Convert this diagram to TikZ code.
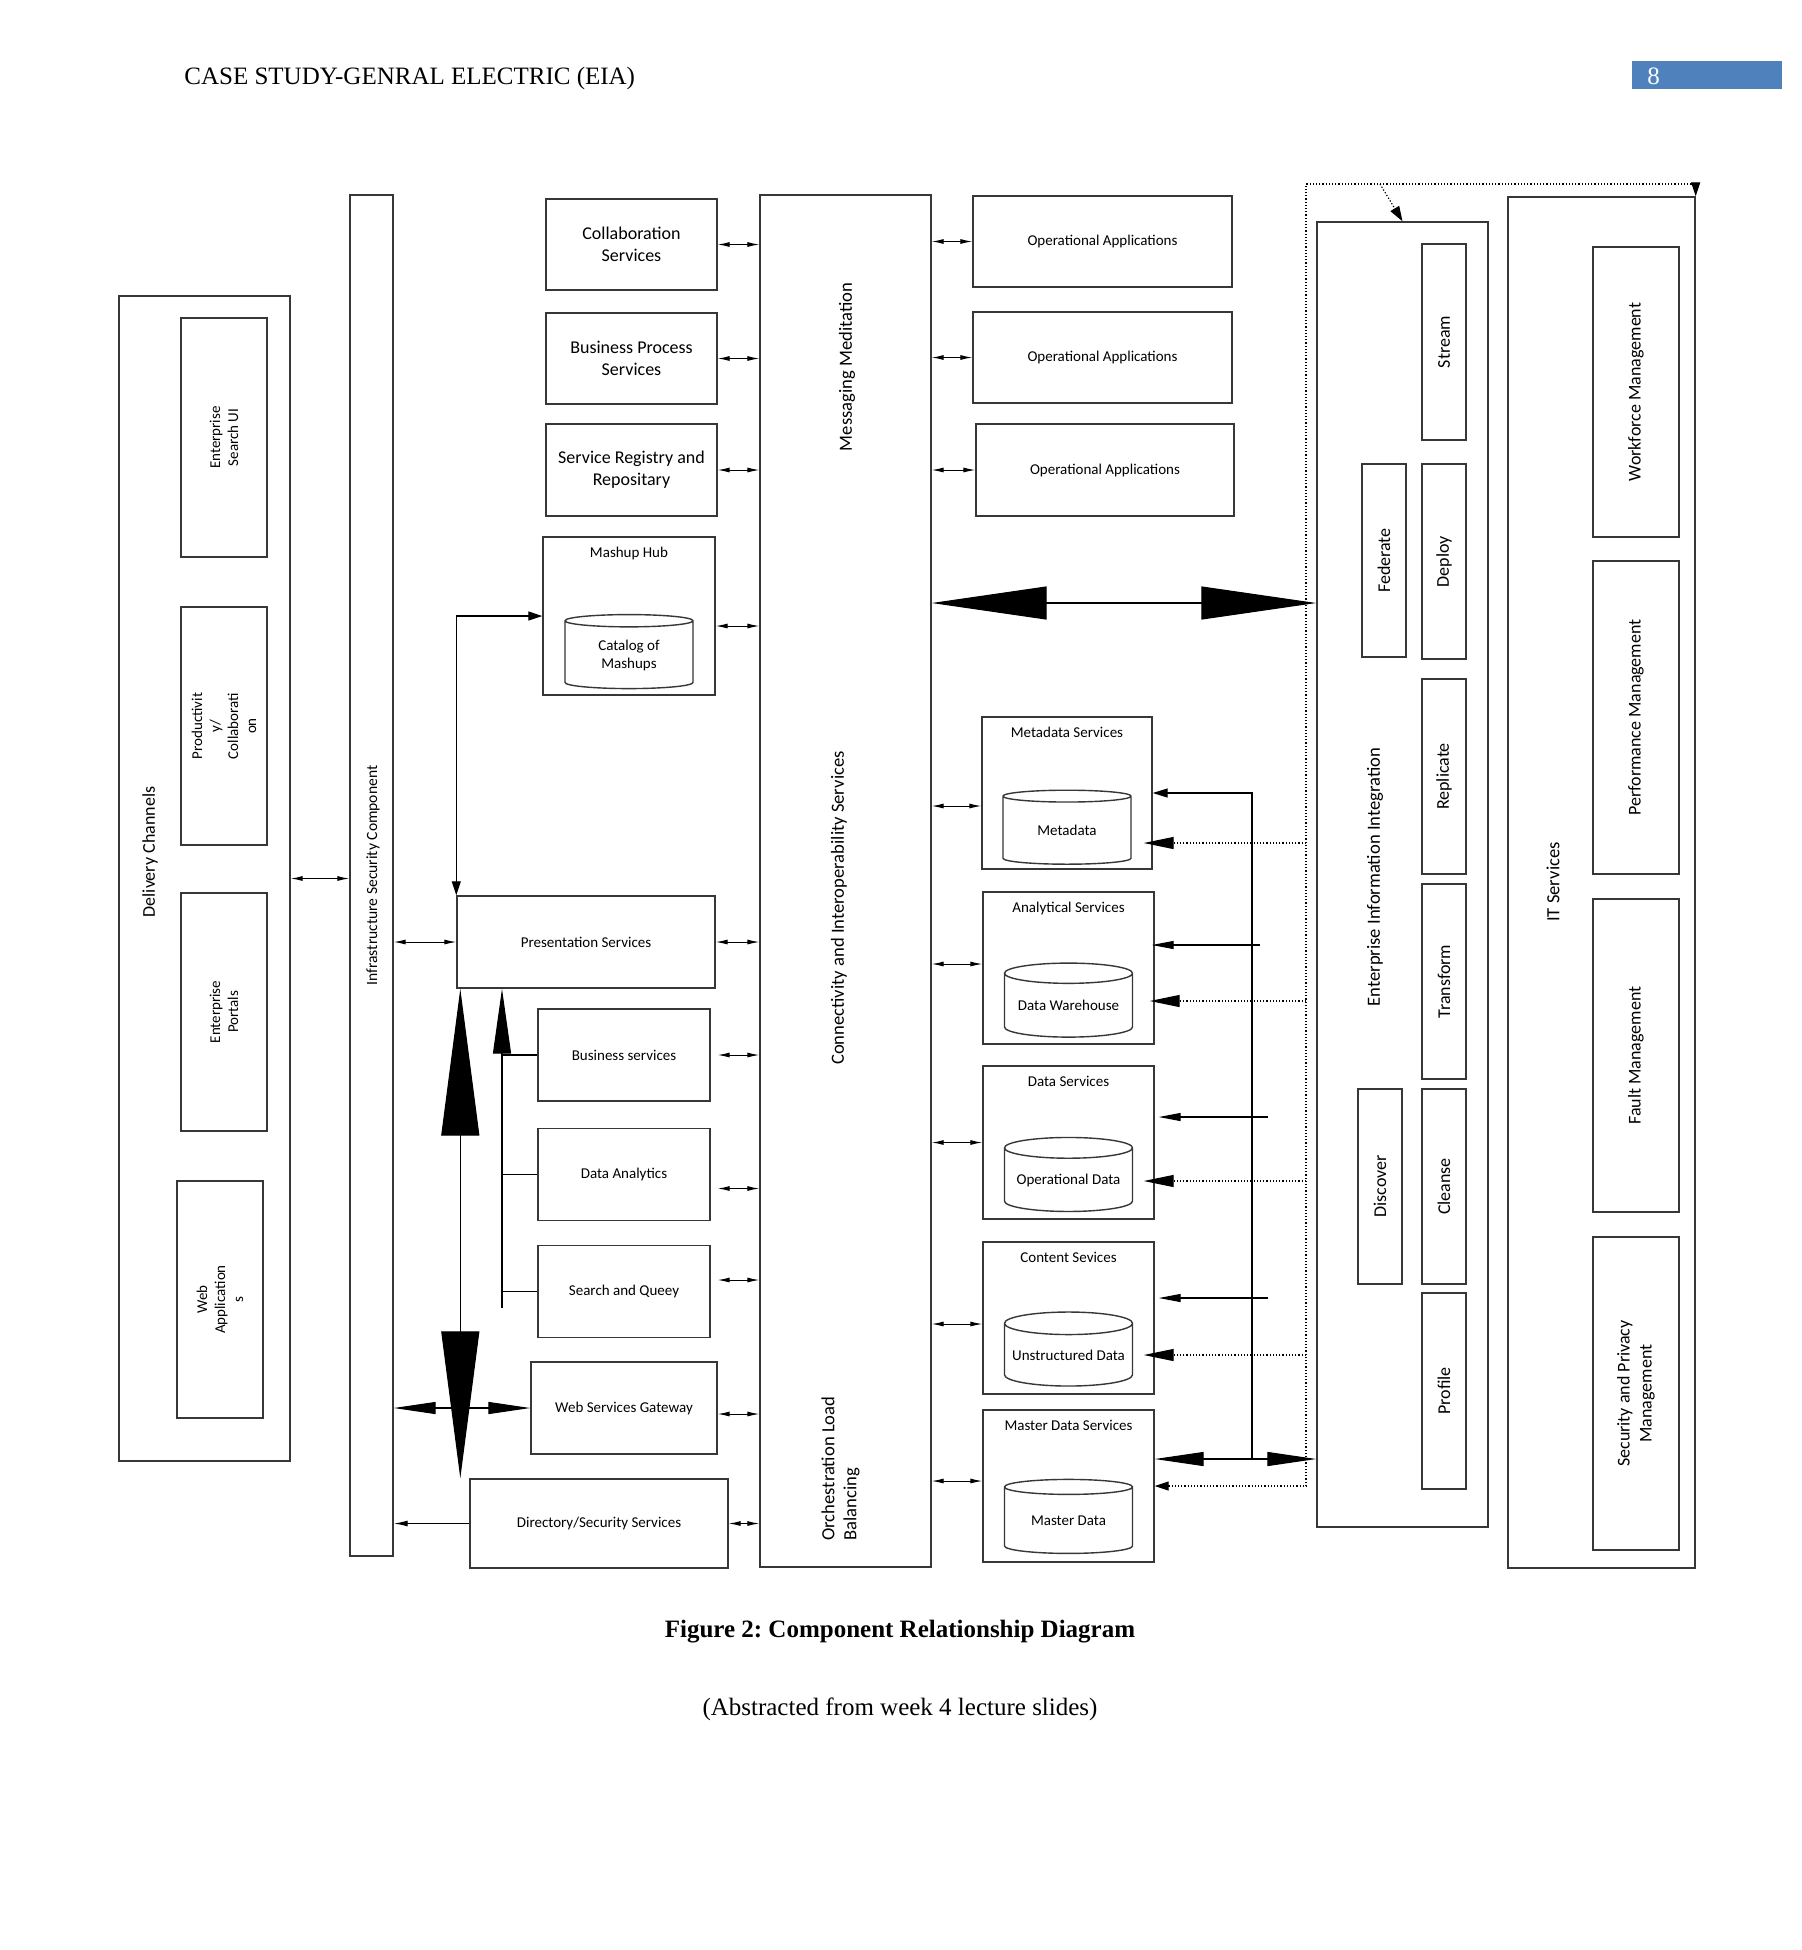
\documentclass[tikz,border=0pt]{standalone}
\usepackage{fontspec}
\usepackage{tikz}
\usetikzlibrary{shapes.geometric,positioning,arrows.meta}
\setmainfont{Liberation Serif}
\newfontfamily\calfont{Carlito}
\definecolor{pagebar}{RGB}{79,129,189}
\definecolor{edgecol}{RGB}{55,55,55}
\frenchspacing

\begin{document}
\begin{tikzpicture}[
  x=0.5pt, y=-0.5pt,
  box/.style={draw=edgecol, line width=0.7pt, align=center, inner sep=1pt,
              font=\calfont\fontsize{9}{11}\selectfont},
  sbox/.style={box, font=\calfont\fontsize{7.5}{9}\selectfont},
  vbox/.style={box, rotate=90},
  svbox/.style={sbox, rotate=90},
  db/.style={cylinder, shape border rotate=90, aspect=0.2, draw=edgecol, line width=0.7pt,
             minimum width=64pt, minimum height=37pt, inner sep=0pt, align=center,
             font=\calfont\fontsize{7.5}{9}\selectfont},
  txt/.style={inner sep=1pt, align=center, font=\calfont\fontsize{9.3}{11}\selectfont},
  stxt/.style={inner sep=1pt, align=center, font=\calfont\fontsize{7.5}{9}\selectfont},
  arr/.style={{Latex[length=6pt,width=2.5pt]}-{Latex[length=6pt,width=2.5pt]}, line width=0.5pt},
  duo/.style={{Triangle[length=7pt,width=4.5pt]}-{Triangle[length=7pt,width=4.5pt]}, line width=0.6pt},
  solarr/.style={-{Triangle[length=11pt,width=4pt]}, line width=0.6pt},
  hugearr/.style={{Triangle[length=73.5pt,width=19pt]}-{Triangle[length=73.5pt,width=19pt]}, line width=0.6pt},
  widearr/.style={{Triangle[length=57.5pt,width=16.5pt]}-{Triangle[length=57.5pt,width=16.5pt]}, line width=0.6pt},
  gwarr/.style={{Triangle[length=21pt,width=6pt]}-{Triangle[length=21pt,width=6pt]}, line width=0.6pt},
  mdarr/.style={{Triangle[length=24.5pt,width=7pt]}-{Triangle[length=24.5pt,width=7pt]}, line width=0.6pt},
  dotline/.style={densely dotted, line width=0.6pt},
  dotarr/.style={dotline, -{Triangle[length=15pt,width=6pt]}}
]

\useasboundingbox[fill=white] (0,0) rectangle (1802,1950);

% page header and caption
\node[anchor=west, inner sep=0pt, font=\fontsize{12.5}{14}\selectfont] (header) at (184,78) {CASE STUDY-GENRAL ELECTRIC (EIA)};
\node[fill=pagebar, minimum width=75pt, minimum height=14pt, inner sep=0pt] (pagebox) at (1707,75) {};
\node[anchor=west, inner sep=0pt, text=white, font=\fontsize{12.5}{14}\selectfont] (pagenum) at (1647,76) {8};
\node[font=\bfseries\fontsize{12.5}{14}\selectfont] (caption) at (900,1632) {Figure 2: Component Relationship Diagram};
\node[font=\fontsize{12.5}{14}\selectfont] (source) at (900,1709) {(Abstracted from week 4 lecture slides)};

% delivery channels
\node[box, minimum width=85.5pt, minimum height=582.5pt] (deliv) at (204.5,878.5) {};
\node[txt, rotate=90, font=\calfont\fontsize{9}{11}\selectfont] (delivlbl) at (150,852) {Delivery Channels};
\node[svbox, minimum width=119.5pt, minimum height=43pt] (esui) at (224,437.5) {Enterprise\\Search UI};
\node[svbox, minimum width=119pt, minimum height=43pt] (prodcol) at (224,726) {Productivit\\y/\\Collaborati\\on};
\node[svbox, minimum width=119pt, minimum height=43pt] (eportal) at (224,1012) {Enterprise\\Portals};
\node[svbox, minimum width=118.5pt, minimum height=43pt] (webapp) at (220,1299.5) {Web\\Application\\s};

% infrastructure security
\node[box, minimum width=21.5pt, minimum height=680.5pt] (infra) at (371.5,875.5) {};
\node[stxt, rotate=90, font=\calfont\fontsize{7.8}{9}\selectfont] (infralbl) at (373,875.5) {Infrastructure Security Component};

% service boxes
\node[box, minimum width=85.5pt, minimum height=45.5pt] (collab) at (631.5,244.5) {Collaboration\\Services};
\node[box, minimum width=85.5pt, minimum height=45.5pt] (bproc) at (631.5,358.5) {Business Process\\Services};
\node[box, minimum width=85.5pt, minimum height=46pt] (sreg) at (631.5,470) {Service Registry and\\Repositary};
\node[box, minimum width=86pt, minimum height=79pt] (mashup) at (629,616) {};
\node[stxt, below=4pt of mashup.north] (mashuplbl) {Mashup Hub};
\node[db] (catalog) at (629,655) {Catalog of\\Mashups};

\node[sbox, minimum width=129pt, minimum height=46pt] (pres) at (586,942) {Presentation Services};
\node[sbox, minimum width=86pt, minimum height=46pt] (bserv) at (624,1055) {Business services};
\node[sbox, minimum width=86pt, minimum height=46pt] (danal) at (624,1174.5) {Data Analytics};
\node[sbox, minimum width=86pt, minimum height=46pt] (search) at (624,1291.5) {Search and Queey};
\node[sbox, minimum width=93pt, minimum height=46pt] (wsg) at (624,1408) {Web Services Gateway};
\node[sbox, minimum width=129pt, minimum height=44.5pt] (dirsec) at (599,1523.5) {Directory/Security Services};

% connectivity column
\node[box, minimum width=85.5pt, minimum height=686pt] (conncol) at (845.5,881) {};
\node[txt, rotate=90] (msglbl) at (847,367) {Messaging Meditation};
\node[txt, rotate=90] (connlbl) at (839,908) {Connectivity and Interoperability Services};
\node[txt, rotate=90, anchor=west, align=left] (orchlbl) at (840.5,1543) {Orchestration Load\\Balancing};

% operational applications
\node[sbox, minimum width=129.5pt, minimum height=45.5pt] (opapp1) at (1102.5,241.5) {Operational Applications};
\node[sbox, minimum width=129.5pt, minimum height=45.5pt] (opapp2) at (1102.5,357.5) {Operational Applications};
\node[sbox, minimum width=129pt, minimum height=46pt] (opapp3) at (1105,470) {Operational Applications};

% data services
\node[box, minimum width=85pt, minimum height=76pt] (metasrv) at (1067,793) {};
\node[stxt, below=4pt of metasrv.north] (metalbl) {Metadata Services};
\node[db] (metadb) at (1067,830.5) {Metadata};
\node[box, minimum width=85.5pt, minimum height=76pt] (analsrv) at (1068.5,968) {};
\node[stxt, below=4pt of analsrv.north] (anallbl) {Analytical Services};
\node[db] (dwdb) at (1068.5,1005.5) {Data Warehouse};
\node[box, minimum width=85.5pt, minimum height=76.5pt] (datasrv) at (1068.5,1142.5) {};
\node[stxt, below=4pt of datasrv.north] (datalbl) {Data Services};
\node[db] (opdb) at (1068.5,1180) {Operational Data};
\node[box, minimum width=85.5pt, minimum height=76pt] (contsrv) at (1068.5,1318) {};
\node[stxt, below=4pt of contsrv.north] (contlbl) {Content Sevices};
\node[db] (unstrdb) at (1068.5,1355) {Unstructured Data};
\node[box, minimum width=85.5pt, minimum height=76pt] (mastersrv) at (1068.5,1486) {};
\node[stxt, below=4pt of mastersrv.north] (masterlbl) {Master Data Services};
\node[db] (masterdb) at (1068.5,1520.5) {Master Data};

% enterprise information integration
\node[box, minimum width=85.5pt, minimum height=652.5pt] (eii) at (1402.5,874.5) {};
\node[txt, rotate=90] (eiilbl) at (1375,877) {Enterprise Information Integration};
\node[vbox, minimum width=98pt, minimum height=22pt] (stream) at (1444,342) {Stream};
\node[vbox, minimum width=97.5pt, minimum height=22pt] (deploy) at (1444,561.5) {Deploy};
\node[vbox, minimum width=97.5pt, minimum height=22pt] (replic) at (1444,776.5) {Replicate};
\node[vbox, minimum width=97.5pt, minimum height=22pt] (transf) at (1444,981.5) {Transform};
\node[vbox, minimum width=97.5pt, minimum height=22pt] (cleanse) at (1444,1186.5) {Cleanse};
\node[vbox, minimum width=98pt, minimum height=22pt] (profile) at (1444,1391) {Profile};
\node[vbox, minimum width=96.5pt, minimum height=22pt] (federate) at (1384,560.5) {Federate};
\node[vbox, minimum width=97.5pt, minimum height=22pt] (discover) at (1380,1186.5) {Discover};

% it services
\node[box, minimum width=93.5pt, minimum height=685.5pt] (itsrv) at (1601.5,882.5) {};
\node[txt, rotate=90] (itlbl) at (1553,882) {IT Services};
\node[vbox, minimum width=145pt, minimum height=43pt] (workforce) at (1636,392) {Workforce Management};
\node[vbox, minimum width=156.5pt, minimum height=43pt] (perfmgmt) at (1636,717.5) {Performance Management};
\node[vbox, minimum width=156.5pt, minimum height=43pt] (faultmgmt) at (1636,1055.5) {Fault Management};
\node[vbox, minimum width=156.5pt, minimum height=43pt] (secmgmt) at (1636,1393.5) {Security and Privacy\\Management};

% left connectors
\draw[arr] (deliv.east) -- (deliv.east -| infra.west);
\draw[arr] (infra.east |- pres.west) -- (pres.west);
\draw[duo] (mashup.west) -| (pres.north west);
\draw[hugearr] ([xshift=2pt]pres.south west) -- ([xshift=2pt]pres.south west |- dirsec.north);
\coordinate (trunk) at (502,1308);
\draw[line width=0.6pt, -{Triangle[length=32.5pt,width=9pt]}] (trunk) -- (trunk |- pres.south);
\draw[line width=0.6pt] (trunk |- bserv.west) -- (bserv.west);
\draw[line width=0.6pt] (trunk |- danal.west) -- (danal.west);
\draw[line width=0.6pt] (trunk |- search.west) -- (search.west);
\draw[gwarr] (infra.east |- wsg.west) -- (wsg.west);
\draw[line width=0.6pt, -{Latex[length=7pt,width=3pt]}] (dirsec.west) -- (dirsec.west -| infra.east);

% into the column
\draw[arr] (collab.east) -- (collab.east -| conncol.west);
\draw[arr] (bproc.east) -- (bproc.east -| conncol.west);
\draw[arr] (sreg.east) -- (sreg.east -| conncol.west);
\draw[arr] ([yshift=-5pt]mashup.east) -- ([yshift=-5pt]mashup.east -| conncol.west);
\draw[arr] (pres.east) -- (pres.east -| conncol.west);
\draw[arr] ([xshift=3.5pt]bserv.east) -- (bserv.east -| conncol.west);
\draw[arr] ([xshift=3.5pt,yshift=-7pt]danal.east) -- ([yshift=-7pt]danal.east -| conncol.west);
\draw[arr] ([xshift=3.5pt,yshift=5.75pt]search.east) -- ([yshift=5.75pt]search.east -| conncol.west);
\draw[arr] ([yshift=-3pt]wsg.east) -- ([yshift=-3pt]wsg.east -| conncol.west);
\draw[arr] (dirsec.east) -- (dirsec.east -| conncol.west);

% out of the column
\draw[arr] (conncol.east |- opapp1.west) -- (opapp1.west);
\draw[arr] (conncol.east |- opapp2.west) -- (opapp2.west);
\draw[arr] (conncol.east |- opapp3.west) -- (opapp3.west);
\draw[arr] ([yshift=-6.5pt]metasrv.west -| conncol.east) -- ([yshift=-6.5pt]metasrv.west);
\draw[arr] ([yshift=2pt]analsrv.west -| conncol.east) -- ([yshift=2pt]analsrv.west);
\draw[arr] (datasrv.west -| conncol.east) -- (datasrv.west);
\draw[arr] ([yshift=-3pt]contsrv.west -| conncol.east) -- ([yshift=-3pt]contsrv.west);
\draw[arr] ([yshift=2.5pt]mastersrv.west -| conncol.east) -- ([yshift=2.5pt]mastersrv.west);
\coordinate (bigrow) at (1000,603);
\draw[widearr] (conncol.east |- bigrow) -- (eii.west |- bigrow);

% right side feeds
\coordinate (rbus) at (1252,1459);
\draw[line width=0.6pt, -{Triangle[length=7.5pt,width=4.5pt]}] (rbus) |- (metasrv.east);
\coordinate (feed1) at (1260,945);
\coordinate (feed2) at (1268,1117);
\coordinate (feed3) at (1268,1298);
\draw[solarr] (feed1) -- ([xshift=-1.5pt]analsrv.east |- feed1);
\draw[solarr] (feed2) -- ([xshift=2pt]datasrv.east |- feed2);
\draw[solarr] (feed3) -- ([xshift=2pt]contsrv.east |- feed3);
\draw[mdarr] ([yshift=13.5pt]mastersrv.east) -- ([yshift=13.5pt]mastersrv.east -| eii.west);

% dotted links
\coordinate (dotcorner) at (1306,184);
\draw[dotline, {Triangle[length=7pt,width=4.5pt]}-{Triangle[length=7pt,width=4.5pt]}] (mastersrv.east) -| (dotcorner) -| (itsrv.north east);
\draw[dotline, -{Triangle[length=7.5pt,width=5pt]}] ([xshift=37pt]dotcorner) -- (eii.north);
\coordinate (dot1) at (1306,843);
\coordinate (dot2) at (1306,1001);
\coordinate (dot3) at (1306,1181);
\coordinate (dot4) at (1306,1355);
\draw[dotarr] (dot1) -- ([xshift=-4.5pt]metasrv.east |- dot1);
\draw[dotarr] (dot2) -- ([xshift=-2.5pt]analsrv.east |- dot2);
\draw[dotarr] (dot3) -- ([xshift=-5.5pt]datasrv.east |- dot3);
\draw[dotarr] (dot4) -- ([xshift=-5.5pt]contsrv.east |- dot4);

\end{tikzpicture}
\end{document}
